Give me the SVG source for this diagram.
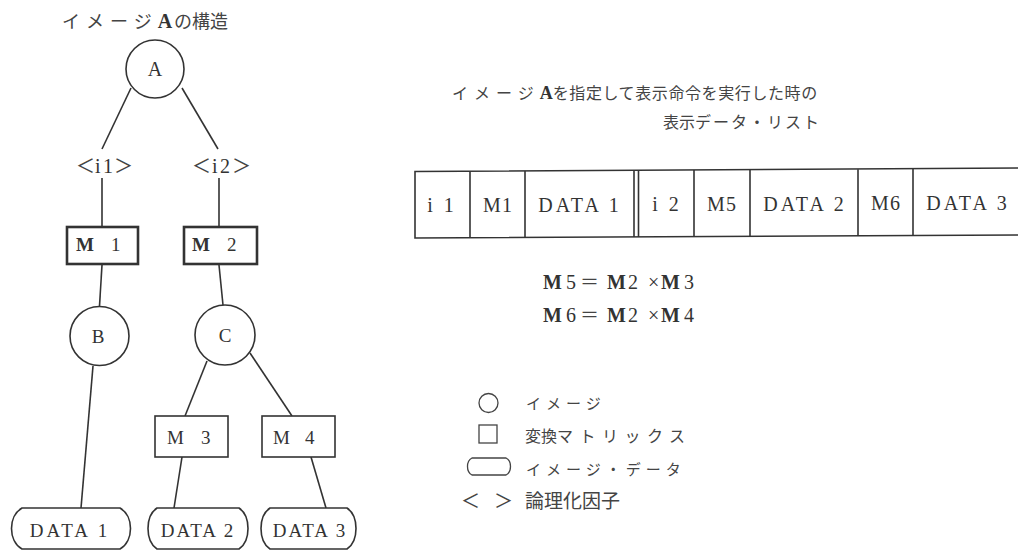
<svg xmlns="http://www.w3.org/2000/svg" width="1018" height="550" viewBox="0 0 1018 550">
<style>
.ln{stroke:#333;stroke-width:1.6;fill:none}
.nd{stroke:#333;stroke-width:1.6;fill:#fff}
.bx{stroke:#333;stroke-width:2.6;fill:#fff}
.bx2{stroke:#333;stroke-width:1.6;fill:#fff}
.t{font-family:"Liberation Serif","Noto Sans CJK JP",serif;fill:#333}
.j{font-family:"Noto Sans CJK JP","Liberation Serif",sans-serif;fill:#444}
</style>
<rect width="1018" height="550" fill="#fff"/>

<text class="j" x="62" y="28" font-size="18"><tspan letter-spacing="6">イメージ</tspan><tspan class="t" font-weight="bold" font-size="20">A</tspan><tspan dx="2">の構造</tspan></text>

<g id="connectors">
<line class="ln" x1="131" y1="88" x2="102" y2="149"/>
<line class="ln" x1="182" y1="88" x2="218" y2="149"/>
<line class="ln" x1="102" y1="178" x2="102" y2="227"/>
<line class="ln" x1="219" y1="178" x2="219" y2="227"/>
<line class="ln" x1="102" y1="265" x2="99.5" y2="306"/>
<line class="ln" x1="219" y1="265" x2="223" y2="305"/>
<line class="ln" x1="93" y1="366" x2="81" y2="508"/>
<line class="ln" x1="207" y1="361" x2="185" y2="416"/>
<line class="ln" x1="250" y1="353" x2="292" y2="416"/>
<line class="ln" x1="182" y1="457" x2="174" y2="508"/>
<line class="ln" x1="311" y1="457" x2="326" y2="508"/>
</g>

<g id="nodeA"><circle class="nd" cx="155" cy="69" r="29"/><text class="t" x="155" y="76" font-size="20" text-anchor="middle">A</text></g>
<g id="labelI1"><text class="t" y="173" font-size="20"><tspan x="76" class="j" font-size="19">＜</tspan><tspan x="95">i</tspan><tspan x="103">1</tspan><tspan x="114" class="j" font-size="19">＞</tspan></text></g>
<g id="labelI2"><text class="t" y="173" font-size="20"><tspan x="192" class="j" font-size="19">＜</tspan><tspan x="212">i</tspan><tspan x="220">2</tspan><tspan x="232" class="j" font-size="19">＞</tspan></text></g>
<g id="nodeM1"><rect class="bx" x="67" y="227" width="71" height="37"/><text class="t" y="251" font-size="19"><tspan x="76" font-weight="bold">M</tspan><tspan x="111">1</tspan></text></g>
<g id="nodeM2"><rect class="bx" x="184" y="227" width="73" height="37"/><text class="t" y="251" font-size="19"><tspan x="192" font-weight="bold">M</tspan><tspan x="227">2</tspan></text></g>
<g id="nodeB"><circle class="nd" cx="99.5" cy="336" r="29.5"/><text class="t" x="98" y="343" font-size="19" text-anchor="middle">B</text></g>
<g id="nodeC"><circle class="nd" cx="225" cy="335" r="30"/><text class="t" x="225" y="342" font-size="19" text-anchor="middle">C</text></g>
<g id="nodeM3"><rect class="bx2" x="155" y="416" width="73" height="41"/><text class="t" y="444" font-size="19"><tspan x="167">M</tspan><tspan x="201">3</tspan></text></g>
<g id="nodeM4"><rect class="bx2" x="262" y="416" width="73" height="41"/><text class="t" y="444" font-size="19"><tspan x="273">M</tspan><tspan x="305">4</tspan></text></g>

<g id="nodeDATA1"><path class="nd" d="M22,508 L120,508 C134,516 134,541 120,549 L22,549 C8,541 8,516 22,508 Z"/><text class="t" x="70" y="537" font-size="19" text-anchor="middle" letter-spacing="3">DATA 1</text></g>
<g id="nodeDATA2"><path class="nd" d="M157,508 L239,508 C251,516 251,541 239,549 L157,549 C145,541 145,516 157,508 Z"/><text class="t" x="198" y="537" font-size="19" text-anchor="middle" letter-spacing="2">DATA 2</text></g>
<g id="nodeDATA3"><path class="nd" d="M270,508 L347,508 C359,516 359,541 347,549 L270,549 C258,541 258,516 270,508 Z"/><text class="t" x="310" y="537" font-size="19" text-anchor="middle" letter-spacing="2">DATA 3</text></g>

<text class="j" x="452" y="99" font-size="16"><tspan letter-spacing="6">イメージ</tspan><tspan class="t" font-weight="bold" font-size="18">A</tspan><tspan letter-spacing="0.6">を指定して表示命令を実行した時の</tspan></text>
<text class="j" x="663" y="128" font-size="16"><tspan>表示</tspan><tspan letter-spacing="2">データ・リスト</tspan></text>

<g id="table">
<polyline class="ln" points="1018,168 415,171.5 415,238 1018,235"/>
<line class="ln" x1="470" y1="171.3" x2="470" y2="238"/>
<line class="ln" x1="525" y1="171" x2="525" y2="237.5"/>
<line class="ln" x1="634" y1="170.5" x2="634" y2="237"/>
<line class="ln" x1="638.5" y1="170.5" x2="638.5" y2="237"/>
<line class="ln" x1="694" y1="170" x2="694" y2="236.8"/>
<line class="ln" x1="750" y1="169.8" x2="750" y2="236.5"/>
<line class="ln" x1="858" y1="169.2" x2="858" y2="235.8"/>
<line class="ln" x1="913" y1="168.9" x2="913" y2="235.5"/>
<g class="t" font-size="20" text-anchor="middle">
<text x="442" y="212" letter-spacing="3">i 1</text>
<text x="498" y="212" letter-spacing="1">M1</text>
<text x="580" y="212" letter-spacing="3">DATA 1</text>
<text x="667" y="211" letter-spacing="3">i 2</text>
<text x="722" y="211" letter-spacing="1">M5</text>
<text x="805" y="211" letter-spacing="3">DATA 2</text>
<text x="886" y="210" letter-spacing="1">M6</text>
<text x="968" y="210" letter-spacing="3">DATA 3</text>
</g>
</g>

<g class="t" font-size="20">
<text y="289"><tspan x="543" font-weight="bold">M</tspan><tspan x="566">5</tspan><tspan x="580" class="j" font-size="19">＝</tspan><tspan x="607" font-weight="bold">M</tspan><tspan x="628">2</tspan><tspan x="648">×</tspan><tspan x="661" font-weight="bold">M</tspan><tspan x="684">3</tspan></text>
<text y="322"><tspan x="543" font-weight="bold">M</tspan><tspan x="566">6</tspan><tspan x="580" class="j" font-size="19">＝</tspan><tspan x="607" font-weight="bold">M</tspan><tspan x="628">2</tspan><tspan x="648">×</tspan><tspan x="661" font-weight="bold">M</tspan><tspan x="684">4</tspan></text>
</g>

<g id="legend">
<circle cx="488.5" cy="403" r="9.5" fill="none" stroke="#444" stroke-width="1.3"/>
<text class="j" x="526" y="409" font-size="15" letter-spacing="5">イメージ</text>
<rect x="479" y="425" width="18" height="18" fill="none" stroke="#444" stroke-width="1.3"/>
<text class="j" x="525" y="442" font-size="16"><tspan>変換</tspan><tspan letter-spacing="6.5">マトリックス</tspan></text>
<path d="M472,458 L506,458 C512,461 512,472 506,475 L472,475 C466,472 466,461 472,458 Z" fill="none" stroke="#444" stroke-width="1.3"/>
<text class="j" x="526" y="475" font-size="15" letter-spacing="5">イメージ・データ</text>
<text class="j" x="461" y="508" font-size="19">＜</text>
<text class="j" x="494" y="508" font-size="19">＞</text>
<text class="j" x="525" y="508" font-size="19">論理化因子</text>
</g>
</svg>
